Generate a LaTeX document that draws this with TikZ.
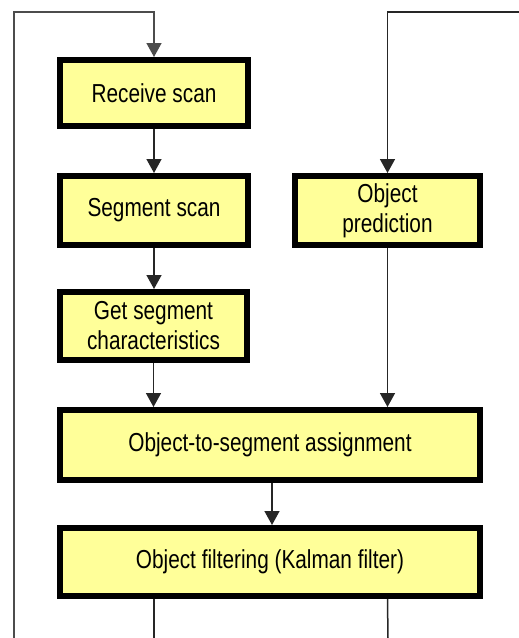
\documentclass[tikz,border=0pt]{standalone}
\usepackage{fontspec}
\setmainfont[FakeStretch=0.8]{Liberation Sans}
\usetikzlibrary{arrows.meta}
\definecolor{boxfill}{RGB}{255,255,153}
\begin{document}
\begin{tikzpicture}[x=1pt,y=-1pt,
  stepbox/.style={draw=black, line width=6pt, fill=boxfill, inner sep=0pt,
    align=center, font=\fontsize{26}{30}\selectfont},
  conn/.style={line width=1.5pt, draw=black!85},
  arr/.style={conn, -{Triangle[width=15pt,length=14pt]}}]
\useasboundingbox (0,0) rectangle (519,638);
\node[stepbox, minimum width=188pt, minimum height=66pt] (recv) at (154,93) {Receive scan};
\node[stepbox, minimum width=188pt, minimum height=69pt] (seg) at (154,210.5) {Segment scan};
\node[stepbox, minimum width=187pt, minimum height=68pt] (chars) at (153.5,326) {Get segment\\characteristics};
\node[stepbox, minimum width=185pt, minimum height=69pt] (pred) at (387.5,210.5) {Object\\prediction};
\node[stepbox, minimum width=420pt, minimum height=70pt] (assign) at (270,445) {Object-to-segment assignment};
\node[stepbox, minimum width=420pt, minimum height=68pt] (filt) at (270,562) {Object filtering (Kalman filter)};
\coordinate (lb) at (14,638);
\coordinate (lt) at (14,12);
\coordinate (rt) at (519,12);
\coordinate (fb1) at (154,638);
\coordinate (fb2) at (388,638);
\draw[arr, draw=black!70] (lb) -- (lt) -| (recv.north);
\draw[arr] (recv) -- (seg);
\draw[arr] (seg) -- (seg |- chars.north);
\draw[arr] (chars.south) -- (chars.south |- assign.north);
\draw[arr] (rt) -| (pred.north);
\draw[arr] (pred) -- (pred |- assign.north);
\draw[arr] ([xshift=2pt]assign.south) -- ([xshift=2pt]filt.north);
\draw[conn] (filt.south -| recv) -- (fb1);
\draw[conn] (filt.south -| pred) -- (fb2);
\end{tikzpicture}
\end{document}
